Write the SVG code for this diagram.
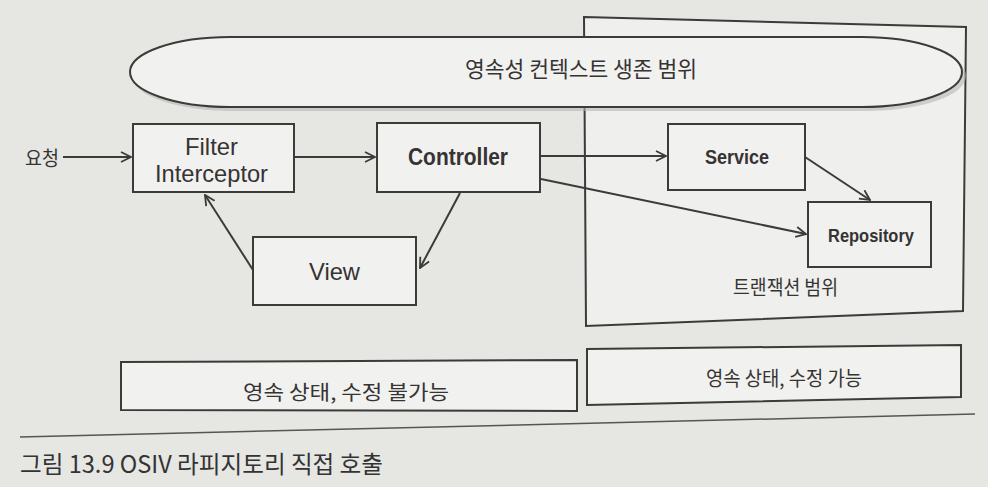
<svg xmlns="http://www.w3.org/2000/svg" width="988" height="487" viewBox="0 0 988 487">
<defs>
<style>
.bg{fill:#e6e6e3}
.box{fill:#f1f1ef;stroke:#3d3a3a;stroke-width:2}
.scope{fill:#efefed;stroke:#3d3a3a;stroke-width:2}
.lbl{font-family:"Liberation Sans",Arial,"Noto Sans CJK KR",sans-serif;font-size:24px;fill:#363333}
.b{font-weight:bold}
.kr{font-family:"Noto Sans CJK KR","Liberation Sans",sans-serif;font-size:20px;fill:#363333}
.edge{fill:none;stroke:#3d3a3a;stroke-width:2;marker-end:url(#arr)}
</style>
<marker id="arr" viewBox="0 0 12 12" refX="11" refY="6" markerWidth="12" markerHeight="12" markerUnits="userSpaceOnUse" orient="auto">
<path d="M1,1 L11,6 L1,11" fill="none" stroke="#3d3a3a" stroke-width="1.8"/>
</marker>
</defs>
<rect class="bg" x="0" y="0" width="988" height="487"/>

<g id="transaction-scope">
<polygon class="scope" points="584,17 966,27 963,311 586,326"/>
<text class="kr" x="733" y="295" textLength="105" lengthAdjust="spacingAndGlyphs">트랜잭션 범위</text>
</g>

<g id="persistence-context">
<path d="M232,41 H866 A100,35 0 0 1 866,111 H232 A100,35 0 0 1 232,41 Z" fill="#b5b5b2" opacity="0.6"/>
<path d="M230,37 H862 A100,35 0 0 1 862,107 H230 A100,35 0 0 1 230,37 Z" fill="#f1f1ef" stroke="#3d3a3a" stroke-width="2"/>
<text class="kr" x="465" y="77" style="font-size:22px" textLength="232" lengthAdjust="spacingAndGlyphs">영속성 컨텍스트 생존 범위</text>
</g>

<g id="request">
<text class="kr" x="25" y="166" textLength="34" lengthAdjust="spacingAndGlyphs">요청</text>
</g>

<g id="filter">
<rect class="box" x="133" y="124" width="161" height="68"/>
<text class="lbl" x="185" y="155" textLength="53" lengthAdjust="spacingAndGlyphs">Filter</text>
<text class="lbl" x="155" y="182" textLength="113" lengthAdjust="spacingAndGlyphs">Interceptor</text>
</g>

<g id="controller">
<rect class="box" x="377" y="123" width="163" height="69"/>
<text class="lbl b" x="408" y="165" textLength="100" lengthAdjust="spacingAndGlyphs">Controller</text>
</g>

<g id="service">
<rect class="box" x="668" y="124" width="137" height="66"/>
<text class="lbl b" x="705" y="164" style="font-size:20px" textLength="64" lengthAdjust="spacingAndGlyphs">Service</text>
</g>

<g id="repository">
<rect class="box" x="808" y="202" width="123" height="65"/>
<text class="lbl b" x="828" y="242" style="font-size:19px" textLength="86" lengthAdjust="spacingAndGlyphs">Repository</text>
</g>

<g id="view">
<rect class="box" x="253" y="237" width="163" height="68"/>
<text class="lbl" x="309" y="280" textLength="51" lengthAdjust="spacingAndGlyphs">View</text>
</g>

<g id="connectors">
<line class="edge" x1="63" y1="157" x2="131" y2="157"/>
<line class="edge" x1="295" y1="157" x2="375" y2="157"/>
<line class="edge" x1="541" y1="156" x2="666" y2="156"/>
<line class="edge" x1="541" y1="179" x2="806" y2="234"/>
<line class="edge" x1="805" y1="157" x2="870" y2="200"/>
<line class="edge" x1="460" y1="193" x2="420" y2="268"/>
<line class="edge" x1="253" y1="270" x2="205" y2="195"/>
</g>

<g id="state-left">
<polygon class="box" points="121,362 577,360 577,411 121,410"/>
<text class="kr" x="243" y="400" textLength="206" lengthAdjust="spacingAndGlyphs">영속 상태, 수정 불가능</text>
</g>

<g id="state-right">
<polygon class="box" points="587,349 961,345 961,397 587,405"/>
<text class="kr" x="706" y="386" textLength="156" lengthAdjust="spacingAndGlyphs">영속 상태, 수정 가능</text>
</g>

<path d="M20,437 Q500,424 975,414" fill="none" stroke="#555" stroke-width="1.5"/>
<text x="20" y="473" textLength="363" lengthAdjust="spacingAndGlyphs" style="font-family:'Noto Sans CJK KR','Liberation Sans',sans-serif;font-size:24px;fill:#333">그림 13.9 OSIV 라피지토리 직접 호출</text>
</svg>
